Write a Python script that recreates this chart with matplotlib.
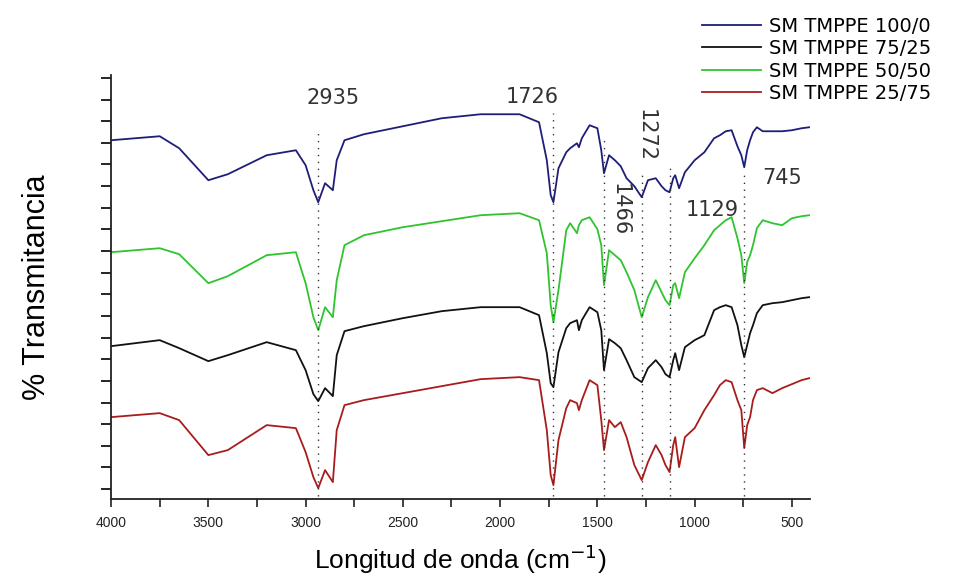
import numpy as np
import matplotlib
matplotlib.use("Agg")
import matplotlib.pyplot as plt
from matplotlib.ticker import MultipleLocator

plt.rcParams['font.family'] = ['Liberation Sans', 'DejaVu Sans']

# numero de onda (cm-1), comun a los cuatro espectros
wn = [4000, 3750, 3650, 3500, 3400, 3200, 3050, 3000, 2960, 2935, 2900, 2860, 2840,
      2800, 2700, 2500, 2300, 2100, 1900, 1800, 1760, 1740, 1726, 1700, 1660, 1640,
      1605, 1595, 1580, 1540, 1500, 1480, 1466, 1440, 1410, 1380, 1350, 1310, 1272,
      1240, 1200, 1170, 1150, 1129, 1110, 1100, 1080, 1050, 1000, 950, 900, 870, 840,
      810, 780, 760, 745, 730, 715, 700, 680, 650, 600, 550, 500, 450, 410]

# % transmitancia (unidades arbitrarias, con desplazamiento vertical)
t_100_0 = [359, 363, 351, 319, 325, 344, 349, 334, 309, 297, 316, 309, 339, 359, 365,
           373, 381, 385, 385, 377, 339, 304, 297, 331, 347, 351, 356, 352, 361, 374,
           371, 349, 326, 344, 339, 333, 321, 313, 302, 319, 321, 313, 309, 307, 321,
           324, 311, 327, 339, 347, 361, 364, 368, 369, 353, 344, 332, 349, 359, 367,
           372, 368, 368, 368, 369, 371, 372]
t_50_50 = [247, 251, 245, 216, 223, 244, 247, 216, 182, 169, 192, 182, 219, 254, 264,
           272, 278, 284, 286, 279, 246, 194, 177, 209, 269, 276, 266, 274, 279, 282,
           270, 254, 214, 249, 244, 239, 227, 209, 182, 202, 219, 207, 199, 194, 214,
           216, 201, 227, 241, 254, 269, 274, 279, 282, 261, 244, 216, 237, 244, 254,
           271, 279, 276, 274, 281, 283, 284]
t_75_25 = [153, 159, 151, 138, 144, 157, 149, 129, 105, 98, 111, 103, 144, 168, 173,
           181, 188, 192, 192, 184, 146, 116, 112, 147, 171, 176, 179, 169, 179, 192,
           187, 169, 129, 160, 156, 151, 139, 122, 117, 131, 139, 132, 125, 122, 139,
           146, 129, 152, 159, 164, 189, 192, 194, 192, 174, 154, 142, 154, 166, 174,
           186, 194, 196, 197, 199, 201, 202]
t_25_75 = [82, 86, 79, 44, 49, 74, 71, 47, 22, 11, 29, 17, 69, 94, 99, 106, 113, 120,
           122, 119, 69, 24, 14, 59, 91, 99, 96, 89, 99, 119, 114, 79, 49, 79, 72, 77,
           62, 34, 19, 37, 54, 44, 34, 27, 54, 62, 32, 62, 71, 89, 104, 114, 119, 117,
           99, 89, 51, 74, 82, 99, 109, 111, 106, 111, 115, 119, 121]

labels = ["SM TMPPE 100/0", "SM TMPPE 75/25", "SM TMPPE 50/50", "SM TMPPE 25/75"]
colors = ["#1e1e78", "#111111", "#2fc42f", "#a81c1c"]

# bandas marcadas: posicion, texto (x, y), rotacion, inicio de la linea punteada
bands = [2935, 1726, 1466, 1272, 1129, 745]
band_text = [(2859, 401, 0), (1837, 402, 0), (1384, 290, -90),
             (1251, 364, -90), (912, 289, 0), (552, 321, 0)]
band_top = [367, 386, 362, 327, 331, 329]

fig = plt.figure(figsize=(9.66, 5.79), dpi=100)
ax = fig.add_axes([0.115, 0.138, 0.7235, 0.732])

series = [t_100_0, t_75_25, t_50_50, t_25_75]
for y, lab, c in zip(series, labels, colors):
    ax.plot(wn, y, color=c, lw=1.3, label=lab)

for b, (tx, ty, rot), top in zip(bands, band_text, band_top):
    ax.plot([b, b], [3, top], color="#333333", lw=1.0, ls=(0, (1, 4)))
    ax.text(tx, ty, str(b), fontsize=15, color="#333333", rotation=rot,
            ha="center", va="center", family=["DejaVu Sans"])

ax.set_xlim(4000, 407)
ax.set_ylim(0, 424)
ax.xaxis.set_major_locator(MultipleLocator(500))
ax.xaxis.set_minor_locator(MultipleLocator(250))
ax.set_yticks(np.arange(10, 425, 21.65))
ax.set_yticklabels([])
ax.tick_params(axis="x", which="both", direction="out", length=6, width=1.2,
               labelsize=10, colors="#222222", pad=6)
ax.tick_params(axis="y", direction="out", length=7, width=1.2)

for s in ["top", "right"]:
    ax.spines[s].set_visible(False)
for s in ["left", "bottom"]:
    ax.spines[s].set_linewidth(1.3)
    ax.spines[s].set_color("#222222")

ax.set_xlabel("Longitud de onda (cm$^{-1}$)", fontsize=19, labelpad=9)
ax.set_ylabel("% Transmitancia", fontsize=22, labelpad=32)

fig.legend(loc="upper left", bbox_to_anchor=(0.710, 1.0), frameon=False,
           borderpad=0.35, handlelength=3.0, handletextpad=0.45, labelspacing=0.18,
           prop={"family": "DejaVu Sans", "size": 14})

fig.savefig("out.png", dpi=100)
